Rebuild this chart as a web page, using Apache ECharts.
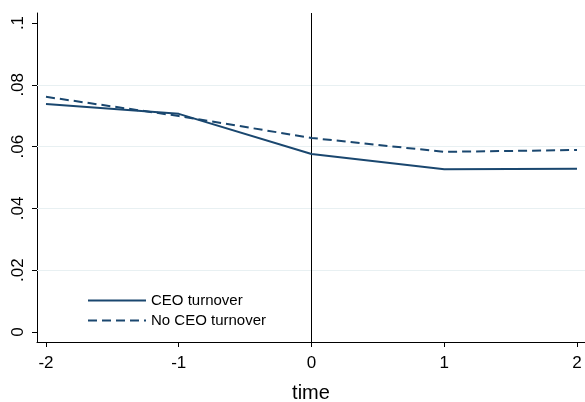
<!DOCTYPE html>
<html><head><meta charset="utf-8">
<script src="https://cdn.jsdelivr.net/npm/echarts@6/dist/echarts.min.js"></script>
<style>html,body{margin:0;padding:0;background:#fff}#c{width:585px;height:402px}</style>
</head><body><div id="c"></div>
<script>
const times = [-2, -1, 0, 1, 2];
const ceoTurnover = [0.0738, 0.0706, 0.0576, 0.0527, 0.0528];
const noCeoTurnover = [0.0761, 0.0699, 0.0628, 0.0583, 0.0589];
const xTicks = [-2, -1, 0, 1, 2];
const yTicks = [0, 0.02, 0.04, 0.06, 0.08, 0.1];
const yTickLabels = ['0', '.02', '.04', '.06', '.08', '.1'];
const gridValues = [0.02, 0.04, 0.06, 0.08];
const seriesNames = ['CEO turnover', 'No CEO turnover'];

const font = 'Liberation Sans, Arial, Helvetica, sans-serif';
const navy = '#1a476f';
const chart = echarts.init(document.getElementById('c'), null, {renderer: 'canvas'});
chart.setOption({
  animation: false,
  backgroundColor: '#fff',
  grid: {left: 37, right: 0, top: 13, bottom: 60, containLabel: false, outerBoundsMode: 'none'},
  legend: {
    orient: 'vertical', left: 82, top: 288, itemWidth: 58, itemHeight: 14, itemGap: 5,
    itemStyle: {opacity: 0},
    textStyle: {fontFamily: font, fontSize: 15, color: '#000'},
    data: seriesNames
  },
  xAxis: {
    type: 'value', min: -2.0678, max: 2.0603,
    name: 'time', nameLocation: 'middle', nameGap: 41,
    nameTextStyle: {fontFamily: font, fontSize: 20, color: '#000'},
    axisLine: {onZero: false, lineStyle: {color: '#000', width: 1}},
    axisTick: {show: true, length: 5, customValues: xTicks, lineStyle: {color: '#000'}},
    axisLabel: {customValues: xTicks, margin: 13, fontFamily: font, fontSize: 17, color: '#000',
      formatter: v => String(Math.round(v))},
    splitLine: {show: false}
  },
  yAxis: {
    type: 'value', min: -0.00324, max: 0.10324,
    axisLine: {show: true, onZero: false, lineStyle: {color: '#000', width: 1}},
    axisTick: {show: true, length: 5, customValues: yTicks, lineStyle: {color: '#000'}},
    axisLabel: {customValues: yTicks, rotate: 90, margin: 10, fontFamily: font, fontSize: 17, color: '#000',
      formatter: v => { const i = yTicks.findIndex(t => Math.abs(t - v) < 1e-9); return i >= 0 ? yTickLabels[i] : ''; }},
    splitLine: {show: false}
  },
  series: [
    {
      name: seriesNames[0], type: 'line', symbol: 'none',
      data: times.map((t, i) => [t, ceoTurnover[i]]),
      lineStyle: {color: navy, width: 2}, itemStyle: {color: navy},
      z: 3,
      markLine: {
        silent: true, symbol: 'none', label: {show: false},
        data: gridValues.map(v => ({yAxis: v, lineStyle: {color: '#e8f0f2', width: 1, type: 'solid'}}))
          .concat([{xAxis: 0, lineStyle: {color: '#000', width: 1, type: 'solid'}}]),
        z: 1
      }
    },
    {
      name: seriesNames[1], type: 'line', symbol: 'none',
      data: times.map((t, i) => [t, noCeoTurnover[i]]),
      lineStyle: {color: navy, width: 2, type: [9, 5]}, itemStyle: {color: navy},
      z: 3
    }
  ]
});
</script></body></html>
